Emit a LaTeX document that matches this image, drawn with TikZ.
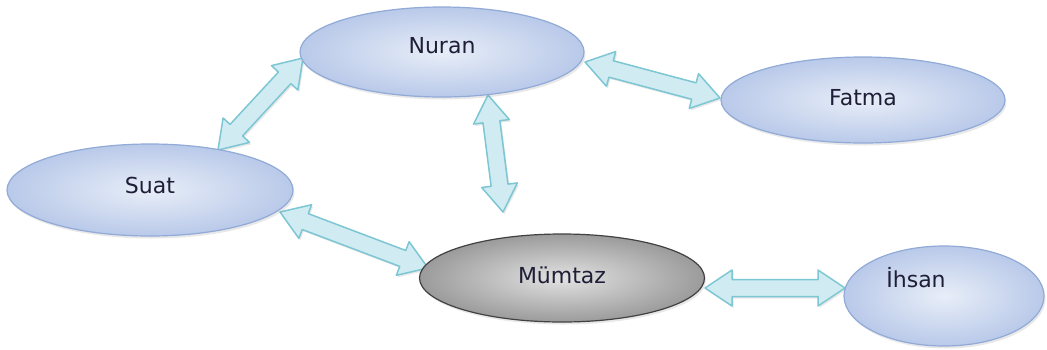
\documentclass[tikz,border=0pt]{standalone}
\usepackage{fontspec}
\setmainfont{DejaVu Sans}
\usetikzlibrary{calc,shapes.geometric,shadows}
\definecolor{txt}{RGB}{30,30,55}
\definecolor{bin}{RGB}{232,238,248}
\definecolor{bout}{RGB}{185,201,233}
\definecolor{bline}{RGB}{145,170,215}
\definecolor{gin}{RGB}{226,226,226}
\definecolor{gout}{RGB}{155,155,155}
\definecolor{gline}{RGB}{65,65,65}
\definecolor{afill}{RGB}{208,236,242}
\definecolor{aline}{RGB}{125,198,211}
\tikzset{
  person/.style={ellipse, inner sep=0pt, draw=bline, line width=1.2pt,
    inner color=bin, outer color=bout, text=txt,
    font=\fontsize{22}{25}\selectfont,
    drop shadow={opacity=0.18, shadow xshift=1.5pt, shadow yshift=-2.5pt}},
  center person/.style={person, draw=gline, inner color=gin, outer color=gout},
  name label/.style={text=txt, font=\fontsize{22}{25}\selectfont},
  barrow/.style={draw=aline, fill=afill, line width=1.5pt, line join=round,
    drop shadow={opacity=0.18, shadow xshift=1.5pt, shadow yshift=-2pt}},
}
\newcommand\dblarrow[2]{%
  \path[barrow] (#1)
   -- ($(#1)!27pt!(#2)!18pt!90:(#2)$)
   -- ($(#1)!27pt!(#2)!8.5pt!90:(#2)$)
   -- ($(#2)!27pt!(#1)!8.5pt!-90:(#1)$)
   -- ($(#2)!27pt!(#1)!18pt!-90:(#1)$)
   -- (#2)
   -- ($(#2)!27pt!(#1)!18pt!90:(#1)$)
   -- ($(#2)!27pt!(#1)!8.5pt!90:(#1)$)
   -- ($(#1)!27pt!(#2)!8.5pt!-90:(#2)$)
   -- ($(#1)!27pt!(#2)!18pt!-90:(#2)$)
   -- cycle;}
\begin{document}
\begin{tikzpicture}[x=1pt,y=-1pt]
\useasboundingbox (0,0) rectangle (1047,349);
% arrow tips
\coordinate (sn1) at (218,150);
\coordinate (sn2) at (303,58);
\coordinate (nf1) at (585,62);
\coordinate (nf2) at (720,98);
\coordinate (nm1) at (488,95);
\coordinate (nm2) at (503,212);
\coordinate (sm1) at (280,212);
\coordinate (sm2) at (428,268);
\coordinate (mi1) at (705,288);
\coordinate (mi2) at (845,288);
\dblarrow{sn1}{sn2}
\dblarrow{nf1}{nf2}
\dblarrow{nm1}{nm2}
\dblarrow{sm1}{sm2}
\dblarrow{mi1}{mi2}
% persons
\node[person, minimum width=284pt, minimum height=90pt,
  label={[name label,yshift=6pt]center:Nuran}] (nuran) at (442,52) {};
\node[person, minimum width=284pt, minimum height=86pt,
  label={[name label,yshift=2pt]center:Fatma}] (fatma) at (863,100) {};
\node[person, minimum width=286pt, minimum height=92pt,
  label={[name label,yshift=5pt]center:Suat}] (suat) at (150,190) {};
\node[center person, minimum width=285pt, minimum height=88pt,
  label={[name label,yshift=3pt]center:Mümtaz}] (mumtaz) at (562,278) {};
\node[person, minimum width=200pt, minimum height=100pt,
  label={[name label,xshift=-28pt,yshift=18pt]center:İhsan}] (ihsan) at (944,296) {};
\end{tikzpicture}
\end{document}
